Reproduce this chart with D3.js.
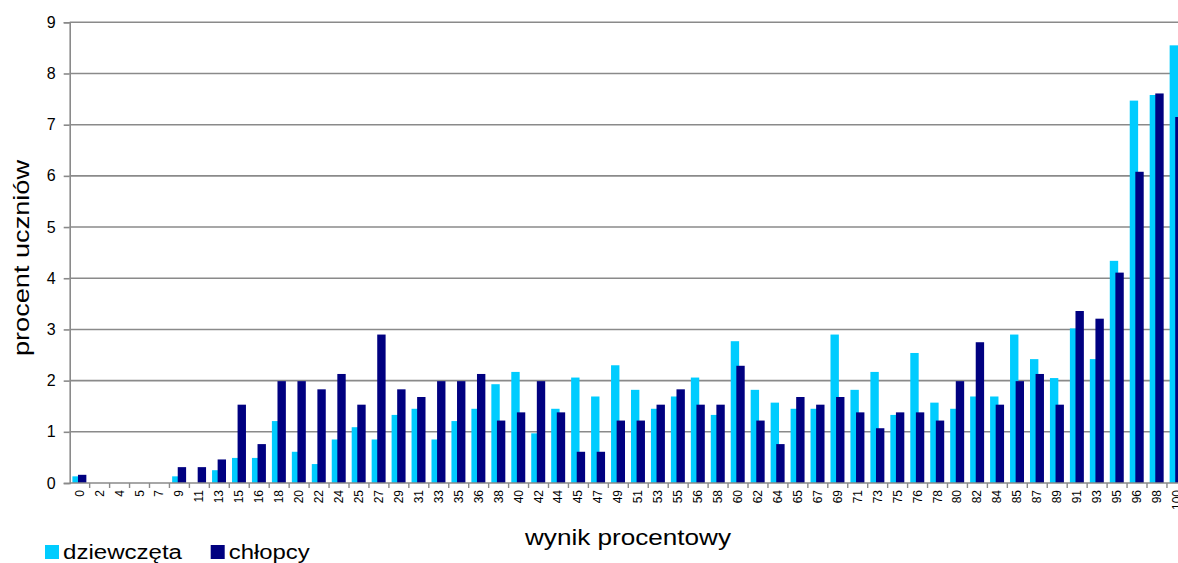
<!DOCTYPE html>
<html>
<head>
<meta charset="utf-8">
<script src="https://cdn.jsdelivr.net/npm/d3@7"></script>
<style>
html,body{margin:0;padding:0;background:#fff;overflow:hidden;}
svg{display:block;font-family:"Liberation Sans",Arial,sans-serif;}
</style>
</head>
<body>
<svg id="chart" width="1178" height="563"></svg>
<script>
const categories = ["0","2","4","5","7","9","11","13","15","16","18","20","22","24","25","27","29","31","33","35","36","38","40","42","44","45","47","49","51","53","55","56","58","60","62","64","65","67","69","71","73","75","76","78","80","82","84","85","87","89","91","93","95","96","98","100"];
const girls = [0.13,0,0,0,0,0.13,0,0.25,0.49,0.49,1.21,0.61,0.37,0.85,1.09,0.85,1.33,1.45,0.85,1.21,1.45,1.93,2.17,0.97,1.45,2.06,1.69,2.30,1.82,1.45,1.69,2.06,1.33,2.77,1.82,1.57,1.45,1.45,2.90,1.82,2.17,1.33,2.54,1.57,1.45,1.69,1.69,2.90,2.42,2.05,3.02,2.42,4.34,7.47,7.58,8.55];
const boys = [0.16,0,0,0,0,0.31,0.31,0.46,1.53,0.76,1.99,1.99,1.83,2.13,1.53,2.90,1.83,1.68,1.99,1.99,2.13,1.22,1.38,1.99,1.38,0.61,0.61,1.22,1.22,1.53,1.83,1.53,1.53,2.29,1.22,0.76,1.68,1.53,1.68,1.38,1.07,1.38,1.38,1.22,1.99,2.75,1.53,1.99,2.13,1.53,3.36,3.21,4.11,6.08,7.61,7.15];
const yTicks = [0,1,2,3,4,5,6,7,8,9];
const seriesNames = ["dziewczęta","chłopcy"];
const colors = ["#00CCFF","#000080"];
const xTitle = "wynik procentowy";
const yTitle = "procent uczniów";

const svg = d3.select("#chart");
const W = 1178;
const pLeft = 69.7, pTop = 22.3, pBottom = 483;
const step = 19.95;

const x = d3.scaleBand().domain(categories).range([pLeft, pLeft + step*categories.length]).padding(0);
const y = d3.scaleLinear().domain([0,9]).range([pBottom, pTop]);
const bw = x.bandwidth();

// gridlines
svg.append("g").selectAll("line").data(yTicks.filter(d=>d>0)).join("line")
  .attr("x1", pLeft).attr("x2", W).attr("y1", d=>y(d)).attr("y2", d=>y(d))
  .attr("stroke", "#8a8a8a").attr("stroke-width", 1.6);

// y axis
const yAxis = svg.append("g").attr("transform", `translate(${pLeft},0)`)
  .call(d3.axisLeft(y).tickValues(yTicks).tickSize(6).tickPadding(8).tickFormat(d3.format("d")));
yAxis.select(".domain").attr("stroke","#8a8a8a").attr("stroke-width",1.6);
yAxis.selectAll(".tick line").attr("stroke","#8a8a8a").attr("stroke-width",1.6);
yAxis.selectAll(".tick text").attr("font-size", 16).attr("fill","#000")
  .attr("font-family",'"Liberation Sans",Arial,sans-serif');

// bars
const gG = svg.append("g");
gG.selectAll("rect").data(categories.map((c,i)=>({c, v:girls[i]}))).join("rect")
  .attr("x", d=>x(d.c) + 0.135*bw).attr("width", 0.42*bw)
  .attr("y", d=>y(d.v)).attr("height", d=>pBottom - y(d.v))
  .attr("fill", colors[0]);
const gB = svg.append("g");
gB.selectAll("rect").data(categories.map((c,i)=>({c, v:boys[i]}))).join("rect")
  .attr("x", d=>x(d.c) + 0.415*bw).attr("width", 0.42*bw)
  .attr("y", d=>y(d.v)).attr("height", d=>pBottom - y(d.v))
  .attr("fill", colors[1]);

// x axis
const xAxisG = svg.append("g").attr("transform", `translate(0,${pBottom})`);
xAxisG.append("line").attr("x1", pLeft).attr("x2", W).attr("y1",0).attr("y2",0)
  .attr("stroke","#8a8a8a").attr("stroke-width",1.6);
xAxisG.selectAll("line.tk").data(categories).join("line").attr("class","tk")
  .attr("x1", d=>x(d)+bw).attr("x2", d=>x(d)+bw).attr("y1",0).attr("y2",5)
  .attr("stroke","#8a8a8a").attr("stroke-width",1.4);
xAxisG.selectAll("text").data(categories).join("text")
  .attr("transform", d=>`translate(${x(d)+bw/2+4},7) rotate(-90)`)
  .attr("text-anchor","end").attr("font-size", 12).attr("fill","#000")
  .text(d=>d);

// axis titles
svg.append("text").attr("x", 628).attr("y", 545).attr("text-anchor","middle")
  .attr("font-size", 22).attr("textLength", 206).attr("lengthAdjust","spacingAndGlyphs")
  .text(xTitle);
svg.append("text").attr("transform","translate(29,258) rotate(-90)").attr("text-anchor","middle")
  .attr("font-size", 22).attr("textLength", 196).attr("lengthAdjust","spacingAndGlyphs")
  .text(yTitle);

// legend
const leg = svg.append("g");
const legX = [45, 210.7];
const legTextLen = [119, 81];
seriesNames.forEach((n,i)=>{
  leg.append("rect").attr("x", legX[i]).attr("y", 545).attr("width", 14).attr("height", 14).attr("fill", colors[i]);
  leg.append("text").attr("x", legX[i]+18).attr("y", 559).attr("font-size", 20)
    .attr("textLength", legTextLen[i]).attr("lengthAdjust","spacingAndGlyphs").text(n);
});
</script>
</body>
</html>
